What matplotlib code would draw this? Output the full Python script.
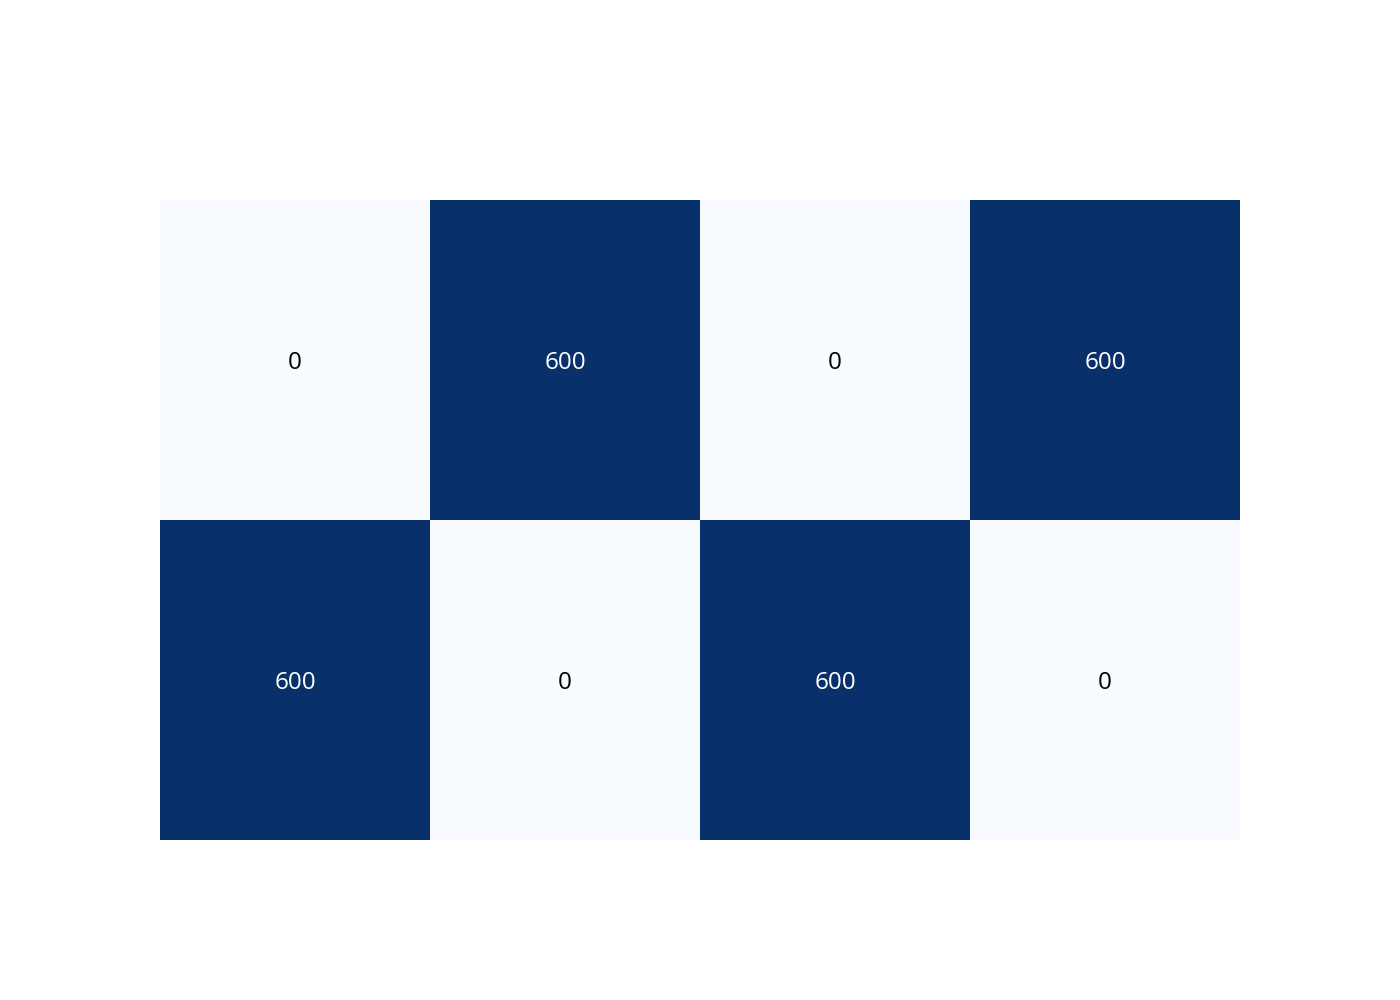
import matplotlib
matplotlib.use("Agg")
import matplotlib.pyplot as plt
import numpy as np

plt.rcParams['font.family'] = ['Open Sans', 'DejaVu Sans']

# grid values, 2 rows x 4 columns
row_top = [0, 600, 0, 600]
row_bottom = [600, 0, 600, 0]
values = np.array([row_top, row_bottom])

fig = plt.figure(figsize=(14, 10), dpi=100)
ax = fig.add_axes([160/1400, 160/1000, 1080/1400, 640/1000])

ax.pcolormesh(values, cmap='Blues', vmin=values.min(), vmax=values.max())
ax.set_xlim(0, values.shape[1])
ax.set_ylim(values.shape[0], 0)

for i in range(values.shape[0]):
    for j in range(values.shape[1]):
        v = values[i, j]
        col = 'white' if v > values.max() / 2 else 'black'
        ax.text(j + 0.5, i + 0.5, str(v), ha='center', va='center_baseline',
                fontsize=17.5, color=col)

ax.set_xticks([])
ax.set_yticks([])
for s in ax.spines.values():
    s.set_visible(False)

fig.savefig('out.png', dpi=100)
